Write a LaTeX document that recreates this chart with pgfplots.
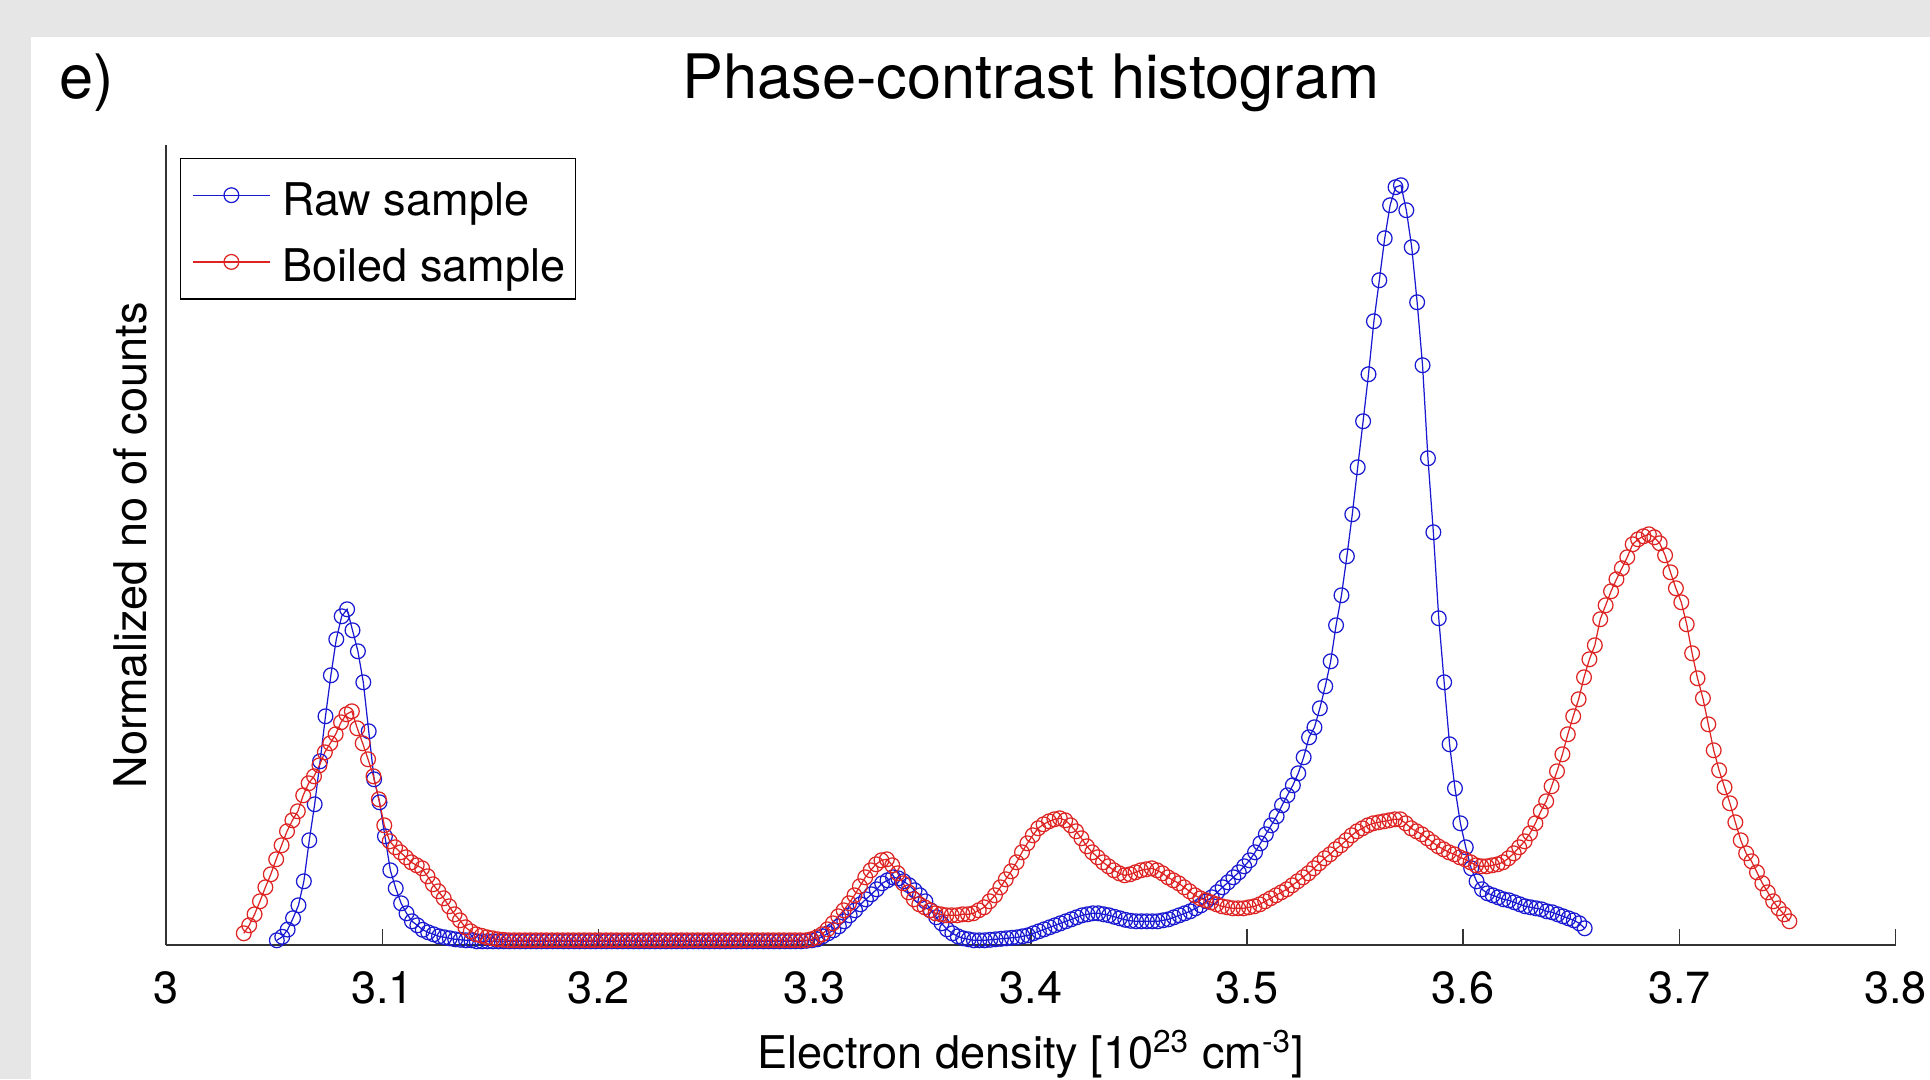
\documentclass[border=0pt]{standalone}
\usepackage{pgfplots}
\pgfplotsset{compat=1.18}
\usepackage{fontspec}
\setmainfont{TeX Gyre Heros}
\definecolor{bggray}{RGB}{230,230,230}
\definecolor{rawblue}{RGB}{25,25,210}
\definecolor{boilred}{RGB}{222,35,35}
\newcommand{\lblfont}{\fontsize{18.3}{22}\selectfont}
\newcommand{\ttlfont}{\fontsize{24.9}{29}\selectfont}

\begin{document}
\begin{tikzpicture}
\useasboundingbox (-67.5pt,-54.5pt) rectangle (716.5pt,384pt);
\fill[bggray] (-67.5pt,-54.5pt) rectangle (716.5pt,384pt);
\fill[white] (-55pt,-54.5pt) rectangle (716.5pt,369pt);
\begin{axis}[
    at={(0,0)}, anchor=south west,
    scale only axis,
    width=702.5pt, height=325pt,
    xmin=3, xmax=3.8, ymin=0, ymax=8,
    axis x line=bottom, axis y line=left,
    axis line style={-, black!80, line width=0.7pt},
    clip=false,
    xtick={3,3.1,3.2,3.3,3.4,3.5,3.6,3.7,3.8},
    xticklabels={3,3.1,3.2,3.3,3.4,3.5,3.6,3.7,3.8},
    ytick=\empty,
    tick align=inside,
    major tick length=6.75pt,
    tick style={black!80, line width=0.6pt},
    xticklabel style={font=\lblfont, yshift=-7pt},
    xlabel={Electron density [10\textsuperscript{23} cm\textsuperscript{-3}]},
    xlabel style={font=\lblfont, at={(axis description cs:0.5,0)}, anchor=base, yshift=-50pt},
    ylabel={Normalized no of counts},
    ylabel style={font=\lblfont, at={(axis description cs:-0.0114,0.5)}, anchor=base, rotate=0},
    title={Phase-contrast histogram},
    title style={font=\ttlfont, at={(axis description cs:0.5,1)}, anchor=base, yshift=13pt},
    legend cell align=left,
    legend style={at={(axis description cs:0,1)}, anchor=north west,
        xshift=5.5pt, yshift=-5pt, draw=black, line width=0.5pt,
        font=\lblfont, inner xsep=1.5pt, inner ysep=3pt, row sep=3pt,
        nodes={inner sep=2.5pt, text height=17.6pt},
        /tikz/every odd column/.append style={column sep=2.5pt}},
    legend image code/.code={\path (0pt,0pt); \draw[mark repeat=2,mark phase=2] plot coordinates {(3.5pt,0pt) (19pt,0pt) (34.5pt,0pt)};},
]
\addplot[rawblue, line width=0.5pt, mark=o, mark size=3pt, mark options={line width=0.5pt}] table {
3.0512 0.05
3.0537 0.085
3.0562 0.157
3.0587 0.271
3.0612 0.40
3.0637 0.64
3.0662 1.05
3.0687 1.41
3.0712 1.84
3.0737 2.29
3.0762 2.70
3.0787 3.06
3.0812 3.29
3.0837 3.36
3.0862 3.15
3.0887 2.94
3.0912 2.63
3.0937 2.14
3.0962 1.66
3.0987 1.43
3.1012 1.09
3.1037 0.75
3.1062 0.57
3.1087 0.42
3.1112 0.32
3.1137 0.24
3.1162 0.20
3.1187 0.155
3.1212 0.13
3.1237 0.11
3.1262 0.09
3.1287 0.08
3.1312 0.07
3.1337 0.06
3.1362 0.055
3.1387 0.05
3.1412 0.05
3.1437 0.04
3.1462 0.04
3.1487 0.04
3.1512 0.04
3.1537 0.04
3.1562 0.04
3.1587 0.04
3.1612 0.04
3.1637 0.04
3.1662 0.04
3.1687 0.04
3.1712 0.04
3.1737 0.04
3.1762 0.04
3.1787 0.04
3.1812 0.04
3.1837 0.04
3.1862 0.04
3.1887 0.04
3.1912 0.04
3.1937 0.04
3.1962 0.04
3.1987 0.04
3.2012 0.04
3.2037 0.04
3.2062 0.04
3.2087 0.04
3.2112 0.04
3.2137 0.04
3.2162 0.04
3.2187 0.04
3.2212 0.04
3.2237 0.04
3.2262 0.04
3.2287 0.04
3.2312 0.04
3.2337 0.04
3.2362 0.04
3.2387 0.04
3.2412 0.04
3.2437 0.04
3.2462 0.04
3.2487 0.04
3.2512 0.04
3.2537 0.04
3.2562 0.04
3.2587 0.04
3.2612 0.04
3.2637 0.04
3.2662 0.04
3.2687 0.04
3.2712 0.04
3.2737 0.04
3.2762 0.04
3.2787 0.04
3.2812 0.04
3.2837 0.04
3.2862 0.04
3.2887 0.04
3.2912 0.04
3.2937 0.04
3.2962 0.045
3.2987 0.05
3.3012 0.06
3.3037 0.09
3.3062 0.12
3.3087 0.15
3.3112 0.19
3.3137 0.24
3.3162 0.30
3.3187 0.35
3.3212 0.41
3.3237 0.46
3.3262 0.51
3.3287 0.56
3.3312 0.62
3.3337 0.65
3.3362 0.68
3.3387 0.67
3.3412 0.64
3.3437 0.60
3.3462 0.55
3.3487 0.50
3.3512 0.44
3.3537 0.35
3.3562 0.28
3.3587 0.22
3.3612 0.16
3.3637 0.12
3.3662 0.09
3.3687 0.07
3.3712 0.06
3.3737 0.05
3.3762 0.05
3.3787 0.05
3.3812 0.055
3.3837 0.06
3.3862 0.065
3.3887 0.07
3.3912 0.075
3.3937 0.08
3.3962 0.09
3.3987 0.10
3.4012 0.12
3.4037 0.14
3.4062 0.16
3.4087 0.18
3.4112 0.20
3.4137 0.22
3.4162 0.24
3.4187 0.26
3.4212 0.28
3.4237 0.30
3.4262 0.31
3.4287 0.32
3.4312 0.32
3.4337 0.31
3.4362 0.30
3.4387 0.285
3.4412 0.27
3.4437 0.255
3.4462 0.245
3.4487 0.24
3.4512 0.24
3.4537 0.24
3.4562 0.24
3.4587 0.24
3.4612 0.25
3.4637 0.26
3.4662 0.28
3.4687 0.30
3.4712 0.32
3.4737 0.34
3.4762 0.37
3.4787 0.40
3.4812 0.44
3.4837 0.48
3.4862 0.53
3.4887 0.58
3.4912 0.63
3.4937 0.68
3.4962 0.73
3.4987 0.79
3.5012 0.85
3.5037 0.93
3.5062 1.02
3.5087 1.11
3.5112 1.20
3.5137 1.29
3.5162 1.40
3.5187 1.50
3.5212 1.60
3.5237 1.72
3.5262 1.88
3.5287 2.08
3.5312 2.18
3.5337 2.37
3.5362 2.59
3.5387 2.84
3.5412 3.20
3.5437 3.50
3.5462 3.89
3.5487 4.31
3.5512 4.78
3.5537 5.24
3.5562 5.71
3.5587 6.24
3.5612 6.65
3.5637 7.07
3.5662 7.40
3.5687 7.58
3.5712 7.60
3.5737 7.35
3.5762 6.98
3.5787 6.43
3.5812 5.80
3.5837 4.87
3.5862 4.13
3.5887 3.27
3.5912 2.63
3.5937 2.01
3.5962 1.57
3.5987 1.22
3.6012 0.98
3.6037 0.77
3.6062 0.64
3.6087 0.56
3.6112 0.52
3.6137 0.50
3.6162 0.48
3.6187 0.46
3.6212 0.45
3.6237 0.43
3.6262 0.41
3.6287 0.39
3.6312 0.38
3.6337 0.37
3.6362 0.36
3.6387 0.34
3.6412 0.33
3.6437 0.31
3.6462 0.29
3.6487 0.27
3.6512 0.25
3.6537 0.22
3.6562 0.17
};
\addlegendentry{Raw sample}
\addplot[boilred, line width=0.5pt, mark=o, mark size=3pt, mark options={line width=0.5pt}] table {
3.0359 0.12
3.0384 0.20
3.0409 0.31
3.0434 0.44
3.0459 0.58
3.0484 0.71
3.0509 0.86
3.0534 1.00
3.0559 1.14
3.0584 1.25
3.0609 1.34
3.0634 1.50
3.0659 1.62
3.0684 1.69
3.0709 1.80
3.0734 1.93
3.0759 2.02
3.0784 2.11
3.0809 2.23
3.0834 2.31
3.0859 2.34
3.0884 2.17
3.0909 2.02
3.0934 1.86
3.0959 1.69
3.0984 1.46
3.1009 1.20
3.1034 1.04
3.1059 0.98
3.1084 0.93
3.1109 0.88
3.1134 0.83
3.1159 0.80
3.1184 0.77
3.1209 0.69
3.1234 0.61
3.1259 0.54
3.1284 0.47
3.1309 0.39
3.1334 0.31
3.1359 0.25
3.1384 0.18
3.1409 0.14
3.1434 0.11
3.1459 0.095
3.1484 0.08
3.1509 0.07
3.1534 0.06
3.1559 0.055
3.1584 0.05
3.1609 0.05
3.1634 0.05
3.1659 0.05
3.1684 0.05
3.1709 0.05
3.1734 0.05
3.1759 0.05
3.1784 0.05
3.1809 0.05
3.1834 0.05
3.1859 0.05
3.1884 0.05
3.1909 0.05
3.1934 0.05
3.1959 0.05
3.1984 0.05
3.2009 0.05
3.2034 0.05
3.2059 0.05
3.2084 0.05
3.2109 0.05
3.2134 0.05
3.2159 0.05
3.2184 0.05
3.2209 0.05
3.2234 0.05
3.2259 0.05
3.2284 0.05
3.2309 0.05
3.2334 0.05
3.2359 0.05
3.2384 0.05
3.2409 0.05
3.2434 0.05
3.2459 0.05
3.2484 0.05
3.2509 0.05
3.2534 0.05
3.2559 0.05
3.2584 0.05
3.2609 0.05
3.2634 0.05
3.2659 0.05
3.2684 0.05
3.2709 0.05
3.2734 0.05
3.2759 0.05
3.2784 0.05
3.2809 0.05
3.2834 0.05
3.2859 0.05
3.2884 0.05
3.2909 0.05
3.2934 0.05
3.2959 0.05
3.2984 0.06
3.3009 0.08
3.3034 0.11
3.3059 0.16
3.3084 0.22
3.3109 0.29
3.3134 0.35
3.3159 0.42
3.3184 0.50
3.3209 0.59
3.3234 0.68
3.3259 0.75
3.3284 0.81
3.3309 0.85
3.3334 0.86
3.3359 0.80
3.3384 0.72
3.3409 0.62
3.3434 0.53
3.3459 0.46
3.3484 0.41
3.3509 0.38
3.3534 0.35
3.3559 0.32
3.3584 0.31
3.3609 0.30
3.3634 0.30
3.3659 0.30
3.3684 0.31
3.3709 0.31
3.3734 0.32
3.3759 0.35
3.3784 0.38
3.3809 0.44
3.3834 0.50
3.3859 0.58
3.3884 0.66
3.3909 0.74
3.3934 0.83
3.3959 0.93
3.3984 1.02
3.4009 1.10
3.4034 1.17
3.4059 1.21
3.4084 1.24
3.4109 1.26
3.4134 1.27
3.4159 1.25
3.4184 1.20
3.4209 1.14
3.4234 1.07
3.4259 0.99
3.4284 0.93
3.4309 0.88
3.4334 0.83
3.4359 0.79
3.4384 0.75
3.4409 0.72
3.4434 0.70
3.4459 0.71
3.4484 0.73
3.4509 0.75
3.4534 0.76
3.4559 0.77
3.4584 0.75
3.4609 0.72
3.4634 0.68
3.4659 0.65
3.4684 0.62
3.4709 0.58
3.4734 0.54
3.4759 0.50
3.4784 0.47
3.4809 0.45
3.4834 0.43
3.4859 0.41
3.4884 0.39
3.4909 0.38
3.4934 0.37
3.4959 0.37
3.4984 0.37
3.5009 0.38
3.5034 0.39
3.5059 0.41
3.5084 0.44
3.5109 0.47
3.5134 0.50
3.5159 0.53
3.5184 0.56
3.5209 0.60
3.5234 0.64
3.5259 0.68
3.5284 0.72
3.5309 0.77
3.5334 0.82
3.5359 0.87
3.5384 0.91
3.5409 0.96
3.5434 1.00
3.5459 1.05
3.5484 1.10
3.5509 1.14
3.5534 1.17
3.5559 1.20
3.5584 1.22
3.5609 1.23
3.5634 1.24
3.5659 1.25
3.5684 1.26
3.5709 1.26
3.5734 1.22
3.5759 1.17
3.5784 1.14
3.5809 1.11
3.5834 1.07
3.5859 1.03
3.5884 0.99
3.5909 0.96
3.5934 0.93
3.5959 0.91
3.5984 0.88
3.6009 0.86
3.6034 0.83
3.6059 0.80
3.6084 0.79
3.6109 0.79
3.6134 0.80
3.6159 0.81
3.6184 0.83
3.6209 0.87
3.6234 0.92
3.6259 0.98
3.6284 1.04
3.6309 1.12
3.6334 1.22
3.6359 1.34
3.6384 1.44
3.6409 1.59
3.6434 1.74
3.6459 1.91
3.6484 2.11
3.6509 2.29
3.6534 2.46
3.6559 2.68
3.6584 2.86
3.6609 3.00
3.6634 3.26
3.6659 3.40
3.6684 3.54
3.6709 3.66
3.6734 3.77
3.6759 3.88
3.6784 4.01
3.6809 4.06
3.6834 4.09
3.6859 4.11
3.6884 4.08
3.6909 4.02
3.6934 3.90
3.6959 3.73
3.6984 3.57
3.7009 3.43
3.7034 3.21
3.7059 2.92
3.7084 2.67
3.7109 2.47
3.7134 2.21
3.7159 1.95
3.7184 1.75
3.7209 1.58
3.7234 1.42
3.7259 1.23
3.7284 1.05
3.7309 0.92
3.7334 0.84
3.7359 0.73
3.7384 0.62
3.7409 0.53
3.7434 0.44
3.7459 0.37
3.7484 0.31
3.7509 0.24
};
\addlegendentry{Boiled sample}
\node[font=\ttlfont, anchor=base west] at ([xshift=-47pt, yshift=19pt]rel axis cs:0,1) {e)};
\end{axis}
\end{tikzpicture}
\end{document}
